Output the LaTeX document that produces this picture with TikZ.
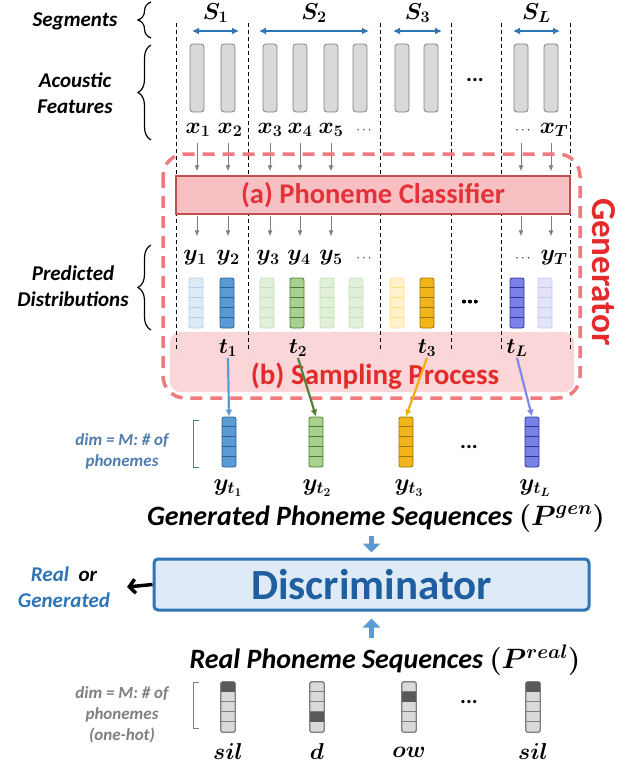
\RequirePackage{fix-cm}
\documentclass[tikz,border=0pt]{standalone}
\usepackage{fontspec}
\setmainfont{Carlito}
\usetikzlibrary{arrows.meta,decorations.pathreplacing}
\definecolor{segblue}{HTML}{2E75B6}
\definecolor{featfill}{HTML}{D9D9D9}
\definecolor{featline}{HTML}{7F7F7F}
\definecolor{clsfill}{HTML}{F7C1C4}
\definecolor{clsline}{HTML}{C0504D}
\definecolor{clstext}{HTML}{E5323A}
\definecolor{sampfill}{HTML}{FBD6D8}
\definecolor{genline}{HTML}{F07A7D}
\definecolor{gentext}{HTML}{E32B2B}
\definecolor{pblue}{HTML}{5B9BD5}\definecolor{pblueline}{HTML}{2F5E8E}
\definecolor{lblue}{HTML}{DDEBF7}\definecolor{lblueline}{HTML}{B4CFEA}
\definecolor{pgreen}{HTML}{A9D18E}\definecolor{pgreenline}{HTML}{4E7A30}
\definecolor{lgreen}{HTML}{E2F0D9}\definecolor{lgreenline}{HTML}{C5E0B4}
\definecolor{pyellow}{HTML}{F2B519}\definecolor{pyellowline}{HTML}{9C7400}
\definecolor{lyellow}{HTML}{FFF2CC}\definecolor{lyellowline}{HTML}{FFE08A}
\definecolor{ppurple}{HTML}{7A82EA}\definecolor{ppurpleline}{HTML}{2E3590}
\definecolor{lpurple}{HTML}{E3E4FA}\definecolor{lpurpleline}{HTML}{C5C8F2}
\definecolor{tgreen}{HTML}{548235}
\definecolor{tyellow}{HTML}{EDB010}
\definecolor{tpurple}{HTML}{8088F0}
\definecolor{discfill}{HTML}{DEEBF7}
\definecolor{discline}{HTML}{2E75B6}
\definecolor{disctext}{HTML}{1F5FA0}
\definecolor{dimblue}{HTML}{4F7DAE}
\definecolor{darkcell}{HTML}{595959}
% a vector of 5 cells: name, x, y, fill, line
\newcommand\phonevec[5]{%
    \node[vecbar, fill=#4, draw=#5] (#1) at (#2,#3) {};
    \foreach \k in {1,...,4}
        \draw[#5, line width=0.8pt] ([yshift={-\k*10pt}]#1.north west) -- ([yshift={-\k*10pt}]#1.north east);
}
% one-hot vector: name, x, y, index of the dark cell
\newcommand\onehotvec[4]{%
    \phonevec{#1}{#2}{#3}{featfill}{featline}
    \fill[darkcell] ([yshift={-(#4-1)*10pt}]#1.north west) rectangle ([yshift={-#4*10pt}]#1.north east);
    \draw[featline, line width=0.8pt, rounded corners=2pt] (#1.north west) rectangle (#1.south east);
}

\begin{document}
\begin{tikzpicture}[x=1pt, y=-1pt,
every node/.style={inner sep=1pt},
lbl/.style={font=\fontsize{21}{26}\selectfont\bfseries\itshape, align=center},
sym/.style={font=\fontsize{23}{25}\selectfont\boldmath},
symr/.style={font=\fontsize{24}{26}\selectfont\boldmath},
smalldots/.style={font=\fontsize{13}{15}\selectfont},
dotsn/.style={font=\fontsize{22}{24}\selectfont\bfseries},
featbar/.style={draw=featline, fill=featfill, line width=0.8pt, rounded corners=3pt, minimum width=14pt, minimum height=68pt},
vecbar/.style={rounded corners=2pt, line width=0.8pt, minimum width=14pt, minimum height=50pt},
segline/.style={black, line width=0.8pt, dash pattern=on 4pt off 3pt},
segarrow/.style={segblue, line width=1.5pt, {Latex[length=7pt,width=7pt]}-{Latex[length=7pt,width=7pt]}},
bracelbl/.style={black, line width=1.2pt, decorate, decoration={brace, amplitude=13pt}},
grayarrow/.style={featline, line width=0.9pt, -{Latex[length=6pt,width=5pt]}},
clsbox/.style={draw=clsline, fill=clsfill, line width=1.5pt, minimum width=394pt, minimum height=38pt, text=clstext, font=\fontsize{28.5}{30}\selectfont\bfseries},
sampbox/.style={fill=sampfill, rounded corners=10pt, minimum width=404pt, minimum height=60pt},
samptext/.style={text=gentext, font=\fontsize{29}{31}\selectfont\bfseries},
genbox/.style={genline, line width=3.5pt, dash pattern=on 12pt off 8pt, rounded corners=22pt},
selarrow/.style={line width=2.2pt, -{Latex[length=7pt,width=7pt]}},
title/.style={font=\fontsize{28}{30}\selectfont\bfseries\itshape\boldmath},
dimlbl/.style={font=\fontsize{17}{21}\selectfont\bfseries\itshape, align=center},
discbox/.style={draw=discline, fill=discfill, line width=3pt, rounded corners=4pt, minimum width=435pt, minimum height=51pt, text=disctext, font=\fontsize{43}{45}\selectfont\bfseries},
bigarrow/.style={pblue, line width=5pt, -{Triangle[length=9pt,width=17pt]}},
outarrow/.style={black, line width=3.5pt, -{Straight Barb[length=6pt,width=14pt]}}]
\useasboundingbox (0,0) rectangle (644,766);

%sampling process box in the back
\node[sampbox] (samp) at (372,362) {};

%segment borders
\foreach \x in {176,248,380,451,501,570}
    \draw[segline] (\x,23) -- (\x,352);

%segments
\foreach \n/\a/\b/\t in {1/192/239/S_1,2/259/369/S_2,3/393/442/S_3,L/513/560/S_L}{
    \coordinate (sa\n) at (\a,31);
    \coordinate (sb\n) at (\b,31);
    \draw[segarrow] (sa\n) -- node[sym, text=black, midway, yshift=18pt] (S\n) {$\t$} (sb\n);
}

%labels on the left
\node[lbl] (segs) at (75,21) {Segments};
\node[lbl] (acou) at (75,93) {Acoustic\\Features};
\node[lbl] (pred) at (73,286) {Predicted\\Distributions};
\draw[bracelbl] (151,38) -- (151,2);
\draw[bracelbl] (151,140) -- (151,45);
\draw[bracelbl] (151,330) -- (151,245);

%acoustic features
\def\featcols{1/197,2/228,3/270,4/300,5/331,6/360,7/402,8/431,9/521,10/551}
\foreach \i/\x in \featcols
    \node[featbar] (f\i) at (\x,78) {};
\node[dotsn] (fdots) at (475,80) {...};
\foreach \i/\x/\t in {1/198/x_1,2/230/x_2,3/270/x_3,4/300/x_4,5/331/x_5,10/554/x_T}
    \node[sym] (x\i) at (\x,130) {$\t$};
\node[smalldots] (x6) at (364,131) {$\cdots$};
\node[smalldots] (x9) at (523,131) {$\cdots$};

%phoneme classifier
\node[clsbox] (cls) at (373,195) {(a) Phoneme Classifier};
\foreach \i in {1,2,3,4,5,9,10}{
    \draw[grayarrow, shorten >=4pt] ([yshift=-31pt]f\i.south) -- (f\i.south |- cls.north);
    \draw[grayarrow, shorten <=1pt] (f\i.south |- cls.south) -- ([yshift=-124pt]f\i.south);
}
\foreach \i/\x/\t in {1/195/y_1,2/228/y_2,3/268/y_3,4/299/y_4,5/331/y_5,10/554/y_T}
    \node[sym] (y\i) at (\x,258) {$\t$};
\node[smalldots] (y6) at (364,259) {$\cdots$};
\node[smalldots] (y9) at (523,259) {$\cdots$};

%predicted distributions
\foreach \i/\x/\c in {1/196/lblue,2/227/pblue,3/267/lgreen,4/297/pgreen,5/327/lgreen,6/356/lgreen,7/397/lyellow,8/427/pyellow,9/517/ppurple,10/545/lpurple}
    \phonevec{p\i}{\x}{303}{\c}{\c line}
\node[dotsn] (pdots) at (470,302) {...};

%sampling process
\node[samptext] (sampt) at (375,376) {(b) Sampling Process};
\foreach \n/\x in {1/228,2/298,3/427,L/517}
    \node[sym, font=\fontsize{22}{24}\selectfont\boldmath] (t\n) at (\x,348) {$t_\n$};

%generator
\draw[genbox] (163,154) rectangle (580,398);
\node[text=gentext, font=\fontsize{35}{37}\selectfont\bfseries, rotate=-90] (gen) at (604,272) {Generator};

%generated phoneme sequences
\phonevec{g1}{229}{442}{pblue}{pblueline}
\phonevec{g2}{316}{442}{pgreen}{pgreenline}
\phonevec{g3}{406}{442}{pyellow}{pyellowline}
\phonevec{g4}{532}{442}{ppurple}{ppurpleline}
\node[dotsn] (gdots) at (469,447) {...};
\draw[selarrow, pblue] (t1.south) -- (g1.north);
\draw[selarrow, tgreen] (t2.south) -- (g2.north);
\draw[selarrow, tyellow] (t3.south) -- (g3.north);
\draw[selarrow, tpurple] (tL.south) -- (g4.north);
\node[dimlbl, text=dimblue] (gdim) at (122,451) {dim = M: \# of\\phonemes};
\draw[dimblue, line width=0.9pt] (199,420) -- (193,420) -- (193,467) -- (199,467);
\foreach \i/\x/\t in {1/228/t_1,2/317/t_2,3/409/t_3,4/535/t_L}
    \node[symr] (yt\i) at (\x,488) {$y_{\t}$};
\node[title] (gentitle) at (376,518) {Generated Phoneme Sequences $(P^{gen})$};

%discriminator
\node[discbox] (disc) at (371.5,584.5) {Discriminator};
\draw[bigarrow] ([yshift=22pt]disc.north) -- ([yshift=5pt]disc.north);
\draw[bigarrow] ([yshift=-26pt]disc.south) -- ([yshift=-7pt]disc.south);
\node[lbl] (rg) at (64,587) {\textcolor{segblue}{Real}\ \ or\\\textcolor{segblue}{Generated}};
\coordinate (rgtip) at (127,587);
\draw[outarrow] (disc.west) -- (rgtip);

%real phoneme sequences
\node[title] (realtitle) at (385,660) {Real Phoneme Sequences $(P^{real})$};
\onehotvec{r1}{228}{707}{1}
\onehotvec{r2}{317}{707}{4}
\onehotvec{r3}{409}{707}{2}
\onehotvec{r4}{533}{707}{1}
\node[dotsn] (rdots) at (469,702) {...};
\node[dimlbl, text=featline] (rdim) at (122,715) {dim = M: \# of\\phonemes\\(one-hot)};
\draw[featline, line width=0.9pt] (199,682) -- (193,682) -- (193,728) -- (199,728);
\foreach \i/\x/\t in {1/228/sil,2/317/d,3/409/ow,4/533/sil}
    \node[sym, font=\fontsize{23}{25}\selectfont\boldmath] (ph\i) at (\x,752) {$\t$};
\end{tikzpicture}
\end{document}
